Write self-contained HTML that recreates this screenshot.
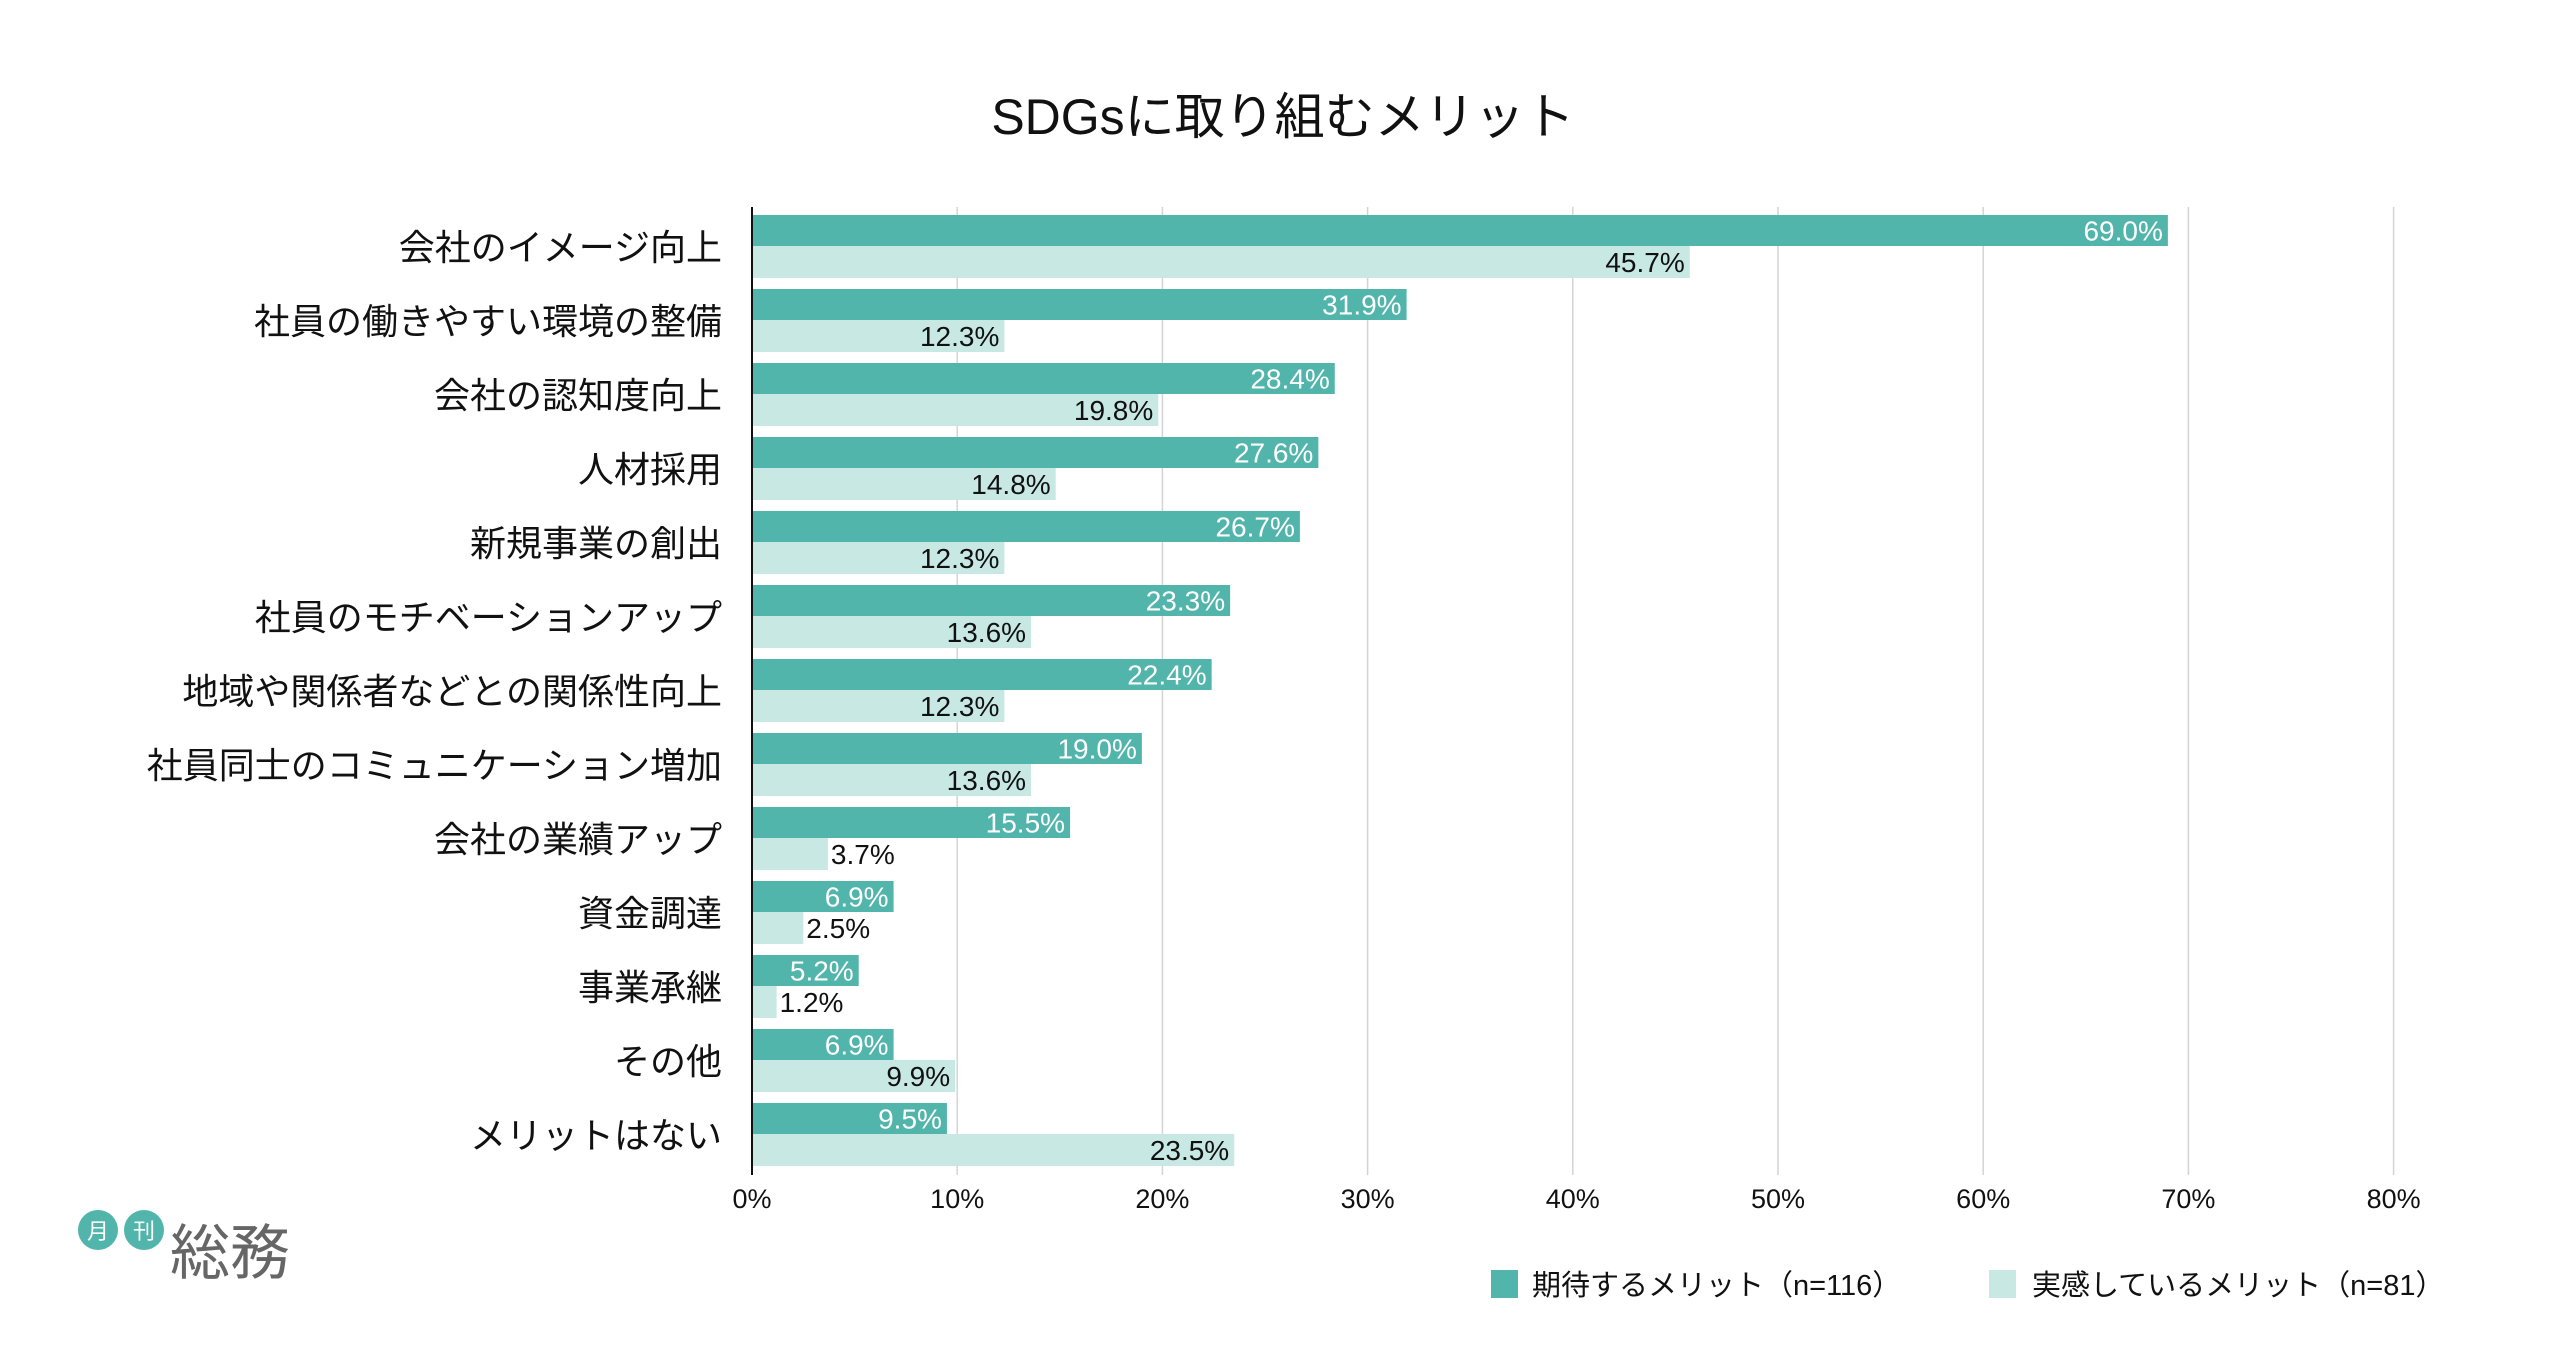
<!DOCTYPE html>
<html><head><meta charset="utf-8">
<style>
html,body{margin:0;padding:0;background:#fff;}
body{width:2564px;height:1344px;overflow:hidden;font-family:"Liberation Sans","Noto Sans CJK JP",sans-serif;}
</style></head>
<body>
<svg id="chart" width="2564" height="1344" xmlns="http://www.w3.org/2000/svg" font-family="Liberation Sans, Noto Sans CJK JP, sans-serif">
<text x="1283" y="134" font-size="50" text-anchor="middle" fill="#111">SDGsに取り組むメリット</text>
<g id="grid"></g><g id="bars"></g><g id="labels"></g>
<g>
<rect x="1491" y="1270" width="27" height="28" fill="#52b5ab"/>
<text x="1532" y="1295" font-size="29" fill="#111">期待するメリット（n=116）</text>
<rect x="1989" y="1270" width="27" height="28" fill="#c8e8e4"/>
<text x="2032" y="1295" font-size="29" fill="#111">実感しているメリット（n=81）</text>
</g>
<g>
<circle cx="98" cy="1230" r="20" fill="#52b5ab"/><text x="98" y="1239" font-size="22" fill="#fff" text-anchor="middle">月</text>
<circle cx="144" cy="1230" r="20" fill="#52b5ab"/><text x="144" y="1239" font-size="22" fill="#fff" text-anchor="middle">刊</text>
<text x="170" y="1274" font-size="60" fill="#666">総務</text>
</g>
</svg>
<script>
const categories=["会社のイメージ向上","社員の働きやすい環境の整備","会社の認知度向上","人材採用","新規事業の創出","社員のモチベーションアップ","地域や関係者などとの関係性向上","社員同士のコミュニケーション増加","会社の業績アップ","資金調達","事業承継","その他","メリットはない"];
const expected=[69.0,31.9,28.4,27.6,26.7,23.3,22.4,19.0,15.5,6.9,5.2,6.9,9.5];
const actual=[45.7,12.3,19.8,14.8,12.3,13.6,12.3,13.6,3.7,2.5,1.2,9.9,23.5];
const ticks=[0,10,20,30,40,50,60,70,80];
const NS="http://www.w3.org/2000/svg";
const x0=752,pxPer=20.52,top0=215,pitch=74.0,h1=31,h2=32,plotTop=207,plotBot=1175;
const X=v=>x0+v*pxPer;
function mk(tag,attrs,parent,txt){const e=document.createElementNS(NS,tag);for(const k in attrs)e.setAttribute(k,attrs[k]);if(txt!==undefined)e.textContent=txt;parent.appendChild(e);return e;}
const grid=document.getElementById('grid'),bars=document.getElementById('bars'),labels=document.getElementById('labels');
ticks.forEach(t=>{
 if(t>0){const l=mk('line',{x1:X(t),x2:X(t),y1:plotTop,y2:plotBot,stroke:'#d4d4d4','stroke-width':1.5},grid);
 
 }
 const tx=mk('text',{x:X(t),y:1208,'font-size':27,'text-anchor':'middle',fill:'#111'},labels,t+'%');
 
 
});
categories.forEach((c,i)=>{
 const y=top0+i*pitch;
 const cl=mk('text',{x:722,y:y+h1+14,'font-size':36,'text-anchor':'end',fill:'#111'},labels,c);
 
 
 [[expected[i],y,h1,'#52b5ab','#fff','bar-expected'],[actual[i],y+h1,h2,'#c8e8e4','#111','bar-actual']].forEach(([v,by,bh,col,tc,nm])=>{
  const r=mk('rect',{x:x0,y:by,width:X(v)-x0,height:bh,fill:col},bars);
  
  
  const txt=v.toFixed(1)+'%';const w=70;
  const inside=(X(v)-x0)>w+6;
  const t=mk('text',{x:inside?X(v)-5:X(v)+3,y:by+bh/2+10,'font-size':28,'text-anchor':inside?'end':'start',fill:inside?tc:'#111'},labels,txt);
  
  
 });
});
const ax=mk('line',{x1:x0,x2:x0,y1:plotTop,y2:plotBot,stroke:'#111','stroke-width':2},labels);


</script>
</body></html>
